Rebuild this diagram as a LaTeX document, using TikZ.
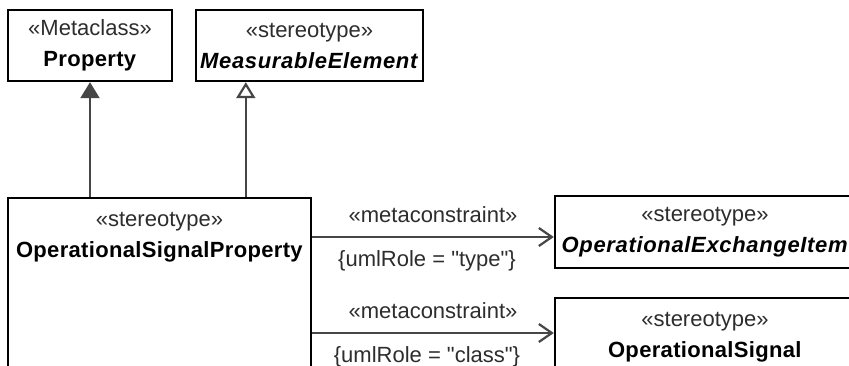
\documentclass[tikz,border=0pt]{standalone}
\usepackage{fontspec}
\setmainfont{Liberation Sans}[Ligatures=TeXOff, BoldFeatures={LetterSpace=1.5}, BoldItalicFeatures={LetterSpace=3}]
\usetikzlibrary{arrows.meta, positioning}
\definecolor{lgray}{RGB}{70,70,70}
\definecolor{stgray}{RGB}{45,45,45}
\newcommand{\stereo}[1]{\textcolor{stgray}{«#1»}}

\begin{document}
\begin{tikzpicture}[x=1pt, y=1pt,
  cls/.style={draw=black, line width=2.4pt, fill=white, font=\fontsize{22}{31}\selectfont,
              align=center, inner sep=0pt},
  cut/.style={cls, anchor=north, inner ysep=14pt, text depth=200pt},
  gen/.style={-{Triangle[length=16pt, width=19pt]}, draw=lgray, line width=2.2pt},
  genopen/.style={-{Triangle[open, fill=white, length=16pt, width=19pt]}, draw=lgray, line width=2.2pt},
  dep/.style={-{Straight Barb[length=13pt, width=18pt]}, draw=lgray, line width=2.2pt},
  lbl/.style={font=\fontsize{22}{25}\selectfont, text=stgray}
]
\useasboundingbox[fill=white] (0,0) rectangle (849,-366);
\clip (0,0) rectangle (849,-366);
\node[cls, minimum width=164pt, minimum height=71pt] (prop) at (90,-45.5) {\stereo{Metaclass}\\\textbf{Property}};
\node[cls, minimum width=227pt, minimum height=71pt] (meas) at (309.5,-45.5) {\stereo{stereotype}\\\textbf{\itshape MeasurableElement}};
\node[cut, minimum width=303pt] (osp) at (159.5,-197) {\stereo{stereotype}\\\textbf{OperationalSignalProperty}};
\node[cls, minimum width=300pt, minimum height=72pt] (oei) at (705,-232) {\stereo{stereotype}\\\textbf{\itshape OperationalExchangeItem}};
\node[cut, minimum width=300pt] (os) at (705,-297) {\stereo{stereotype}\\\textbf{OperationalSignal}};
\draw[gen] (osp.north -| prop.south) -- (prop.south);
\draw[genopen] ([xshift=239pt]osp.north west) -- ([xshift=239pt]osp.north west |- meas.south);
\draw[dep] ([yshift=-5pt]oei.west -| osp.east) -- ([yshift=-5pt]oei.west)
  node[lbl, midway, above=10pt] (mc1) {«metaconstraint»}
  node[lbl, midway, below=9pt, xshift=-6pt] (role1) {\{umlRole = "type"\}};
\draw[dep] ([yshift=-36pt]os.north west -| osp.east) -- ([yshift=-36pt]os.north west)
  node[lbl, midway, above=10pt] (mc2) {«metaconstraint»}
  node[lbl, midway, below=9pt, xshift=-6pt] (role2) {\{umlRole = "class"\}};
\end{tikzpicture}
\end{document}
